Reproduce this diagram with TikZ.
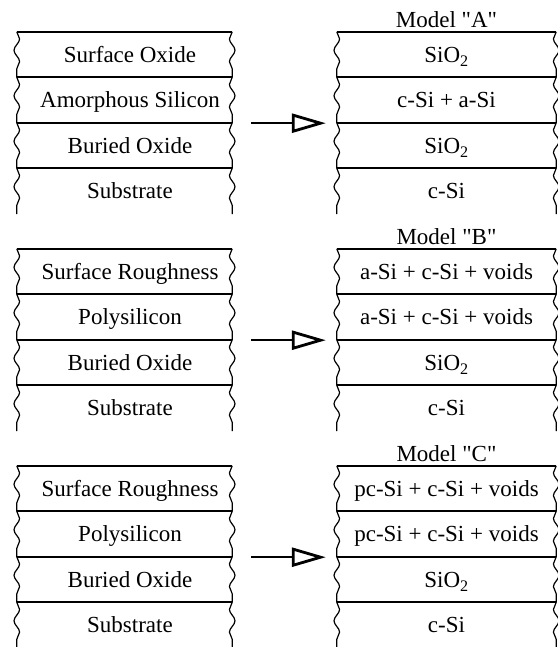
\documentclass[tikz,border=0pt]{standalone}
\usepackage{fontspec}
\setmainfont{Liberation Serif}
\usetikzlibrary{arrows.meta,decorations.pathmorphing,positioning}

\begin{document}
\begin{tikzpicture}[x=1pt, y=1pt,
    font=\fontsize{23}{27}\selectfont,
    slab/.style={
        minimum height=45.5pt,
        inner sep=0pt,
        text height=15.2pt,
        text depth=0pt
    },
    oldslab/.style={
        slab,
        minimum width=215pt,
        execute at begin node={\hspace*{11pt}}
    },
    newslab/.style={
        slab,
        minimum width=219pt
    },
    hline/.style={line width=1.8pt},
    wavy/.style={
        line width=1.2pt,
        decorate,
        decoration={snake, segment length=22.75pt, amplitude=2.8pt}
    },
    model/.style={inner sep=0pt, text height=15.2pt, text depth=0pt},
    flow/.style={
        line width=2pt,
        -{Triangle[open, length=34pt, width=19pt, line width=2.8pt]}
    }
]

%------------------------------------------------
% Parameters
%------------------------------------------------
\def\lh{45.5}
\def\gap{217}
\def\xold{124.5}
\def\xnew{446.5}

\useasboundingbox (0,0) rectangle (557,-647);

%------------------------------------------------
% Sample stacks and fitted models
%------------------------------------------------
\foreach \g/\mdl/\sa/\sb/\ma/\mb in {
    1/A/Surface Oxide/Amorphous Silicon/SiO\textsubscript{2}/c-Si + a-Si,
    2/B/Surface Roughness/Polysilicon/a-Si + c-Si + voids/a-Si + c-Si + voids,
    3/C/Surface Roughness/Polysilicon/pc-Si + c-Si + voids/pc-Si + c-Si + voids} {

    \foreach \i/\ltxt/\rtxt in {1/\sa/\ma, 2/\sb/\mb,
        3/Buried Oxide/SiO\textsubscript{2}, 4/Substrate/c-Si} {
        \pgfmathsetmacro\yc{-(32+(\g-1)*\gap+(\i-0.5)*\lh)}

        % layers
        \node[oldslab] (o\g\i) at (\xold,\yc) {\ltxt};
        \node[newslab] (n\g\i) at (\xnew,\yc) {\rtxt};

        % interfaces
        \draw[hline] (o\g\i.north west) -- (o\g\i.north east);
        \draw[hline] (n\g\i.north west) -- (n\g\i.north east);

        % broken edges
        \draw[wavy] (o\g\i.north west) -- (o\g\i.south west);
        \draw[wavy, decoration={mirror}] (o\g\i.north east) -- (o\g\i.south east);
        \draw[wavy] (n\g\i.north west) -- (n\g\i.south west);
        \draw[wavy, decoration={mirror}] (n\g\i.north east) -- (n\g\i.south east);
    }

    % model name
    \node[model, above=4pt of n\g1.north] (m\g) {Model \textquotedbl\mdl\textquotedbl};

    % sample -> model
    \draw[flow] ([xshift=19pt]o\g2.south east) -- ([xshift=-11pt]n\g2.south west);
}

\end{tikzpicture}
\end{document}
